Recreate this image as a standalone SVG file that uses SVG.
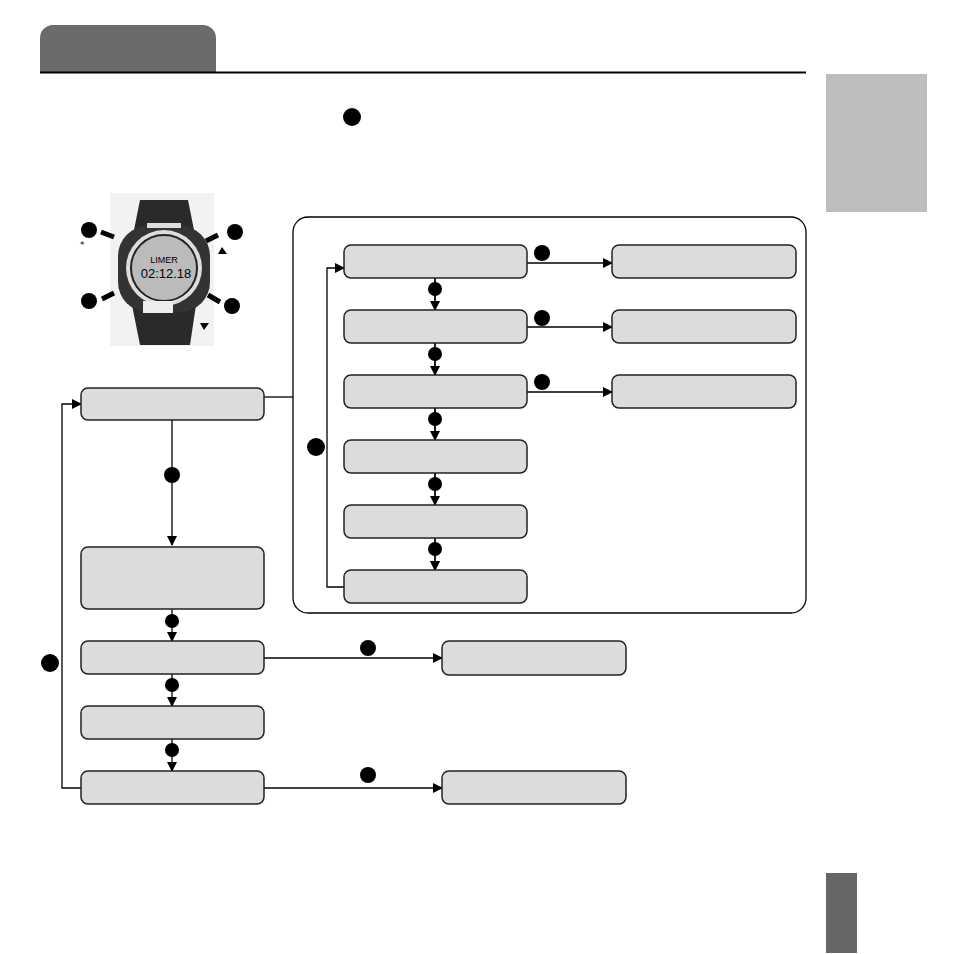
<svg xmlns="http://www.w3.org/2000/svg" width="954" height="954" viewBox="0 0 954 954">
<style>
.b{fill:#dcdcdc;stroke:#222;stroke-width:1.5}
.l{fill:none;stroke:#000;stroke-width:1.3}
.d{fill:#000}
</style>
<defs><marker id="a" markerWidth="10" markerHeight="10" refX="9" refY="5" orient="auto" markerUnits="userSpaceOnUse"><path d="M0,0L10,5L0,10z"/></marker></defs>
<rect width="954" height="954" fill="#fff"/>
<path d="M40,73V38a13,13 0 0 1 13,-13H203a13,13 0 0 1 13,13V73z" fill="#6b6b6b"/>
<line x1="40" y1="72.5" x2="806" y2="72.5" stroke="#000" stroke-width="2"/>
<rect x="826" y="74" width="101" height="138" fill="#bdbdbd"/>
<rect x="826" y="873" width="31" height="80" fill="#666"/>
<circle class="d" cx="352" cy="117" r="9"/>
<g id="watch">
<rect x="110" y="193" width="104" height="153" fill="#f2f2f2"/>
<path d="M140,200H188L196,240H132Z M132,305H196L190,345H140Z" fill="#2a2a2a"/>
<rect x="118" y="226" width="92" height="86" rx="30" fill="#333"/>
<circle cx="164" cy="268" r="38" fill="#ddd"/>
<circle cx="164" cy="268" r="33" fill="#bbb" stroke="#222" stroke-width="2"/>
<rect x="147" y="223" width="34" height="5" fill="#ddd"/>
<rect x="143" y="301" width="30" height="12" fill="#eee"/>
<text x="164" y="263" font-family="Liberation Sans, sans-serif" font-size="9" text-anchor="middle">LIMER</text>
<text x="166" y="278" font-family="Liberation Sans, sans-serif" font-size="13" text-anchor="middle">02:12.18</text>
<circle class="d" cx="89" cy="230" r="8"/><circle class="d" cx="235" cy="232" r="8"/>
<circle class="d" cx="89" cy="301" r="8"/><circle class="d" cx="232" cy="306" r="8"/>
<path d="M101,232L114,237M206,241L218,235M102,299L114,293M208,295L220,302" stroke="#000" stroke-width="5"/>
<path d="M218,254L227,254L222,247Z M200,323L209,323L204,330Z" fill="#000"/>
<text x="80" y="248" font-family="DejaVu Sans, sans-serif" font-size="9">*</text>
</g>
<rect x="293" y="217" width="513" height="396" rx="15" fill="none" stroke="#000" stroke-width="1.3"/>
<g id="connectors">
<path class="l" d="M527,263H612" marker-end="url(#a)"/>
<path class="l" d="M527,327H612" marker-end="url(#a)"/>
<path class="l" d="M527,392H612" stroke-width="2" marker-end="url(#a)"/>
<path class="l" d="M435,278V310M435,343V375M435,408V440M435,473V505M435,538V570" marker-end="url(#a)"/>
<path class="l" d="M435,278V310" marker-end="url(#a)"/><path class="l" d="M435,343V375" marker-end="url(#a)"/>
<path class="l" d="M435,408V440" marker-end="url(#a)"/><path class="l" d="M435,473V505" marker-end="url(#a)"/>
<path class="l" d="M435,538V570" marker-end="url(#a)"/>
<path class="l" d="M344,587H327V268H344" stroke-width="2" marker-end="url(#a)"/>
<path class="l" d="M264,397H293"/>
<path class="l" d="M172,420V545" stroke-width="2" marker-end="url(#a)"/>
<path class="l" d="M172,609V641" marker-end="url(#a)"/>
<path class="l" d="M172,674V706" marker-end="url(#a)"/>
<path class="l" d="M172,739V771" marker-end="url(#a)"/>
<path class="l" d="M81,788H62V404H81" stroke-width="2" marker-end="url(#a)"/>
<path class="l" d="M264,658H442" marker-end="url(#a)"/>
<path class="l" d="M264,788H442" marker-end="url(#a)"/>
<circle class="d" cx="542" cy="253" r="8"/><circle class="d" cx="542" cy="318" r="8"/><circle class="d" cx="542" cy="382" r="8"/>
<circle class="d" cx="435" cy="289" r="7"/><circle class="d" cx="435" cy="354" r="7"/><circle class="d" cx="435" cy="419" r="7"/>
<circle class="d" cx="435" cy="484" r="7"/><circle class="d" cx="435" cy="549" r="7"/>
<circle class="d" cx="316" cy="447" r="9"/>
<circle class="d" cx="172" cy="475" r="8"/><circle class="d" cx="172" cy="621" r="7"/><circle class="d" cx="172" cy="685" r="7"/><circle class="d" cx="172" cy="750" r="7"/>
<circle class="d" cx="50" cy="663" r="9"/>
<circle class="d" cx="368" cy="648" r="8"/><circle class="d" cx="368" cy="775" r="8"/>
</g>
<g id="n1"><rect class="b" x="344" y="245" width="183" height="33" rx="7"/></g>
<g id="n2"><rect class="b" x="344" y="310" width="183" height="33" rx="7"/></g>
<g id="n3"><rect class="b" x="344" y="375" width="183" height="33" rx="7"/></g>
<g id="n4"><rect class="b" x="344" y="440" width="183" height="33" rx="7"/></g>
<g id="n5"><rect class="b" x="344" y="505" width="183" height="33" rx="7"/></g>
<g id="n6"><rect class="b" x="344" y="570" width="183" height="33" rx="7"/></g>
<g id="r1"><rect class="b" x="612" y="245" width="184" height="33" rx="7"/></g>
<g id="r2"><rect class="b" x="612" y="310" width="184" height="33" rx="7"/></g>
<g id="r3"><rect class="b" x="612" y="375" width="184" height="33" rx="7"/></g>
<g id="m1"><rect class="b" x="81" y="388" width="183" height="32" rx="7"/></g>
<g id="m2"><rect class="b" x="81" y="547" width="183" height="62" rx="7"/></g>
<g id="m3"><rect class="b" x="81" y="641" width="183" height="33" rx="7"/></g>
<g id="m4"><rect class="b" x="81" y="706" width="183" height="33" rx="7"/></g>
<g id="m5"><rect class="b" x="81" y="771" width="183" height="33" rx="7"/></g>
<g id="s1"><rect class="b" x="442" y="641" width="184" height="34" rx="7"/></g>
<g id="s2"><rect class="b" x="442" y="771" width="184" height="33" rx="7"/></g>
</svg>
